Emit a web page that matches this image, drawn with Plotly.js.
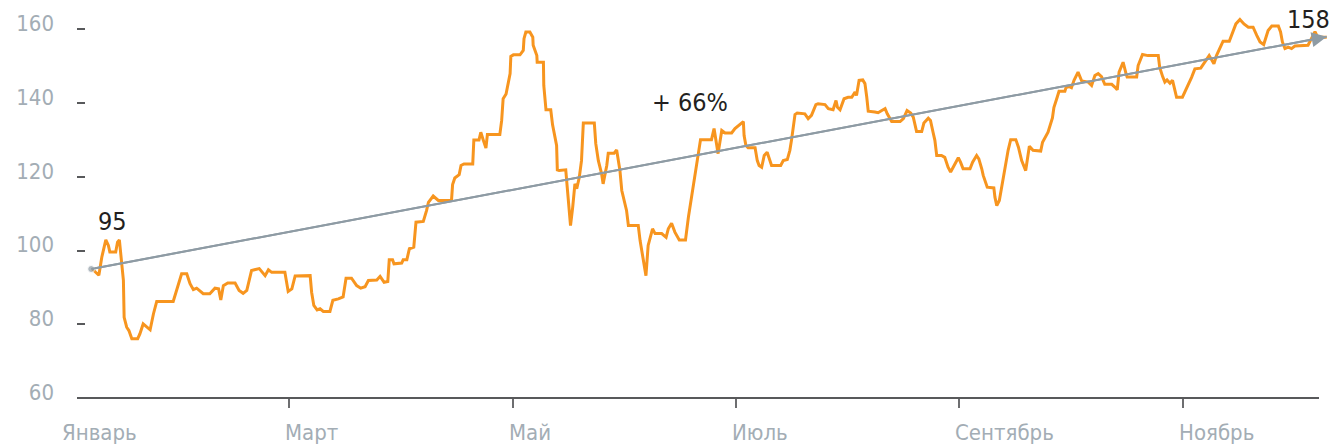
<!DOCTYPE html>
<html><head><meta charset="utf-8">
<script src="https://cdn.plot.ly/plotly-3.0.1.min.js"></script>
<style>html,body{margin:0;padding:0;background:#fff}#chart{width:1333px;height:448px}</style>
</head><body><div id="chart"></div>
<script>
// x = day position (one month = 30.5 units), y = index value
const days = [
  7.2, 9.0, 9.8, 10.9, 11.6, 12.0, 13.6, 14.1, 14.6, 15.0,
  15.7, 15.9, 16.6, 17.2, 18.0, 19.6, 20.2, 21.1, 22.1, 23.0,
  23.9, 24.8, 29.3, 30.0, 31.6, 33.0, 33.9, 34.8, 35.7, 37.5,
  39.3, 40.7, 41.7, 42.3, 43.0, 44.2, 46.2, 47.3, 48.4, 49.4,
  50.7, 52.8, 54.4, 55.3, 56.2, 59.8, 60.3, 60.7, 61.7, 62.6,
  66.7, 67.1, 67.7, 68.6, 69.4, 70.3, 72.1, 72.9, 74.4, 75.7,
  76.5, 78.0, 79.4, 80.5, 81.7, 82.6, 84.9, 85.8, 86.9, 87.9,
  88.3, 89.2, 89.6, 91.7, 92.1, 93.1, 93.8, 95.0, 95.6, 97.6,
  98.5, 99.0, 100.3, 101.7, 105.3, 105.6, 106.2, 107.4, 107.9, 108.7,
  111.1, 111.4, 112.8, 113.3, 114.0, 114.7, 115.1, 118.5, 119.0, 119.4,
  120.2, 121.3, 121.5, 122.2, 124.0, 124.9, 125.1, 125.6, 126.7, 127.5,
  127.6, 128.6, 128.7, 130.4, 130.5, 131.1, 132.4, 132.9, 134.0, 134.2,
  134.7, 136.5, 136.9, 137.5, 137.8, 138.4, 139.0, 139.5, 140.2, 140.8,
  141.3, 144.3, 144.7, 145.4, 146.3, 146.7, 147.7, 148.1, 149.7, 150.4,
  151.3, 151.8, 153.1, 153.6, 156.3, 156.8, 157.7, 158.4, 159.0, 160.2,
  160.9, 162.7, 163.9, 164.5, 165.4, 166.3, 167.5, 169.2, 170.0, 171.2,
  172.1, 172.7, 173.3, 176.3, 177.0, 178.1, 179.1, 180.0, 181.8, 182.7,
  184.1, 185.0, 185.2, 185.7, 186.3, 188.2, 188.8, 189.3, 190.0, 190.7,
  191.5, 192.3, 192.7, 195.2, 195.9, 197.0, 197.7, 198.2, 199.1, 199.7,
  201.8, 202.7, 203.6, 204.8, 205.4, 207.3, 208.2, 209.5, 210.3, 210.7,
  211.4, 212.5, 213.6, 214.6, 215.5, 215.9, 216.6, 217.6, 218.2, 218.7,
  219.1, 220.9, 221.8, 222.8, 223.7, 224.3, 225.0, 225.5, 227.8, 228.7,
  229.7, 230.7, 231.4, 231.9, 232.3, 233.7, 234.3, 235.5, 236.1, 236.8,
  237.3, 237.8, 239.1, 240.0, 240.9, 241.6, 242.5, 243.7, 244.3, 245.0,
  246.9, 247.6, 248.7, 249.3, 250.1, 250.5, 251.6, 253.4, 253.7, 254.2,
  254.9, 255.5, 256.4, 257.3, 258.0, 259.4, 260.1, 261.0, 262.1, 262.5,
  263.1, 264.1, 266.2, 266.7, 267.8, 268.2, 269.4, 269.8, 270.7, 271.2,
  272.8, 273.1, 274.0, 274.6, 275.3, 276.4, 277.4, 279.2, 280.1, 281.0,
  281.9, 282.8, 283.7, 285.6, 286.5, 287.1, 287.6, 288.7, 289.5, 289.8,
  292.4, 292.8, 294.0, 295.5, 298.3, 298.7, 299.5, 300.1, 300.7, 301.5,
  302.2, 302.8, 303.3, 304.9, 306.0, 307.4, 308.3, 309.9, 312.2, 312.9,
  313.5, 314.2, 315.3, 316.0, 317.7, 318.6, 319.5, 320.6, 321.7, 322.9,
  324.2, 325.2, 326.1, 327.1, 327.7, 328.3, 329.3, 331.1, 331.7, 332.2,
  332.9, 333.8, 334.7, 335.6, 339.2, 340.2, 341.1, 341.7, 342.4, 344.3
];
const values = [
  95.0, 93.3, 98.2, 102.9, 101.4, 99.6, 99.6, 102.3, 102.9, 98.2,
  91.9, 81.9, 79.2, 78.3, 76.1, 76.1, 77.4, 80.1, 79.2, 78.5,
  82.8, 86.2, 86.2, 88.7, 93.7, 93.7, 91.0, 89.4, 89.8, 88.3,
  88.3, 89.8, 89.6, 86.6, 90.5, 91.2, 91.2, 89.2, 88.4, 89.2,
  94.6, 95.1, 93.2, 94.8, 94.1, 94.1, 91.0, 88.9, 89.6, 93.1,
  93.2, 88.7, 85.1, 83.9, 84.2, 83.5, 83.5, 86.5, 86.9, 87.4,
  92.5, 92.5, 90.5, 89.8, 90.2, 91.9, 92.0, 93.0, 91.4, 91.6,
  97.5, 97.5, 96.4, 96.6, 97.5, 97.5, 100.5, 100.9, 107.7, 107.9,
  110.9, 113.1, 114.8, 113.6, 113.6, 117.9, 119.7, 120.6, 123.1, 123.5,
  123.5, 130.0, 130.0, 132.1, 129.9, 127.8, 131.5, 131.5, 135.3, 141.2,
  142.5, 148.0, 152.7, 153.1, 153.1, 154.3, 157.5, 159.3, 159.3, 157.9,
  155.7, 152.9, 151.1, 151.1, 144.8, 138.2, 138.2, 134.1, 128.5, 121.9,
  121.7, 121.9, 117.2, 109.1, 106.8, 111.8, 118.1, 116.8, 119.9, 124.4,
  134.6, 134.6, 129.0, 124.4, 120.8, 118.1, 123.1, 126.4, 126.4, 127.3,
  121.7, 116.3, 110.9, 106.8, 106.8, 102.7, 97.3, 93.2, 101.4, 105.9,
  104.6, 104.6, 103.6, 105.9, 107.4, 105.0, 102.9, 102.9, 109.1, 116.8,
  121.3, 126.3, 130.1, 130.1, 133.1, 126.3, 132.6, 131.9, 131.9, 133.1,
  134.4, 135.0, 131.2, 128.5, 127.9, 127.9, 124.4, 123.1, 122.6, 125.8,
  126.7, 124.0, 123.1, 123.1, 124.4, 124.7, 127.2, 130.3, 136.9, 137.3,
  137.1, 135.8, 136.7, 139.6, 139.8, 139.6, 138.5, 138.2, 140.7, 138.9,
  138.2, 141.2, 141.6, 141.6, 143.0, 142.1, 146.2, 146.3, 145.3, 141.6,
  137.8, 137.6, 137.4, 138.0, 138.5, 137.1, 135.8, 135.0, 135.0, 135.8,
  138.0, 137.3, 136.2, 133.9, 132.3, 132.3, 134.6, 135.9, 135.3, 132.1,
  129.9, 125.8, 125.8, 125.3, 122.6, 121.3, 123.1, 125.2, 124.0, 122.2,
  122.2, 124.0, 125.8, 124.9, 122.2, 120.4, 117.2, 117.0, 114.5, 112.2,
  113.6, 117.2, 121.7, 127.2, 130.1, 130.1, 128.1, 124.4, 121.7, 124.4,
  128.3, 127.2, 127.0, 129.4, 131.2, 132.1, 136.0, 138.8, 141.6, 143.2,
  143.2, 144.2, 144.5, 144.2, 146.2, 148.4, 146.0, 145.7, 144.8, 147.5,
  148.0, 147.2, 145.1, 145.1, 144.3, 143.6, 148.4, 151.1, 148.0, 147.1,
  147.1, 150.2, 153.2, 152.9, 152.9, 149.7, 147.2, 145.7, 146.3, 145.4,
  146.2, 143.9, 141.6, 141.6, 143.9, 147.0, 149.3, 149.5, 152.9, 151.6,
  150.7, 152.9, 155.2, 156.8, 156.8, 159.3, 161.5, 162.7, 161.5, 160.6,
  160.6, 158.4, 156.6, 155.9, 157.9, 159.7, 160.9, 160.9, 159.3, 156.6,
  154.8, 155.2, 154.8, 155.5, 155.7, 157.9, 159.4, 158.2, 157.9, 157.9
];
const trendDays = [6.9, 344.3];
const trendValues = [95, 158];
const monthDays = [0, 61, 122, 183, 244, 305];
const monthLabels = ['Январь', 'Март', 'Май', 'Июль', 'Сентябрь', 'Ноябрь'];
const yTicks = [60, 80, 100, 120, 140, 160];
const noteTexts = ['95', '+ 66%', '158'];
const noteDays = [12.6, 170.4, 339.3];
const noteValues = [107.9, 140.2, 162.8];

const FONT = "'Liberation Sans Narrow', 'DejaVu Sans Condensed', 'Roboto Condensed', 'Liberation Sans', sans-serif";
const xRange = [3.03, 345.2];
const axisEnd = 342.2;
const LABEL = '#a3adb5';

const traces = [
  {x: days, y: values, type: 'scatter', mode: 'lines',
   line: {color: '#f7951f', width: 3, shape: 'linear'}, hoverinfo: 'skip'},
  {x: trendDays, y: trendValues, type: 'scatter', mode: 'lines+markers',
   line: {color: '#8e9ba4', width: 2}, marker: {color: '#8e9ba4', size: [7, 0]}, hoverinfo: 'skip'}
];

const annotations = [];
monthLabels.forEach((t, i) => {
  annotations.push({
    text: t, xref: 'paper', yref: 'paper',
    x: (monthDays[i] - xRange[0]) / (xRange[1] - xRange[0]), y: 0,
    xanchor: 'left', yanchor: 'top', xshift: -6, yshift: -20,
    showarrow: false, font: {family: FONT, size: 22, color: LABEL}
  });
});
noteTexts.forEach((t, i) => {
  annotations.push({
    text: t, xref: 'x', yref: 'y', x: noteDays[i], y: noteValues[i],
    xanchor: 'center', yanchor: 'middle', showarrow: false,
    font: {family: FONT, size: 25, color: '#231f20'}
  });
});
annotations.push({
  text: '', xref: 'x', yref: 'y', axref: 'x', ayref: 'y',
  x: trendDays[1], y: trendValues[1], ax: trendDays[0], ay: trendValues[0],
  showarrow: true, arrowhead: 2, arrowsize: 1.5, arrowwidth: 2, arrowcolor: '#8e9ba4', standoff: 0
});

const layout = {
  width: 1333, height: 448,
  margin: {l: 77, r: 3, t: 11, b: 50, pad: 0},
  paper_bgcolor: '#ffffff', plot_bgcolor: '#ffffff',
  showlegend: false,
  font: {family: FONT, size: 22, color: LABEL},
  xaxis: {range: xRange, tickvals: monthDays, showticklabels: false,
          ticks: 'outside', ticklen: 9, tickwidth: 2, tickcolor: '#6d6e70',
          showgrid: false, zeroline: false, showline: false, fixedrange: true},
  yaxis: {range: [60, 165], tickvals: yTicks, ticks: 'inside', ticklen: 8, tickwidth: 2,
          tickcolor: '#58595b', showgrid: false, zeroline: false, showline: false,
          ticklabelstandoff: 22, ticklabelshift: -6,
          tickfont: {family: FONT, size: 22, color: LABEL}, fixedrange: true},
  shapes: [{type: 'line', xref: 'x', yref: 'paper', x0: xRange[0], x1: axisEnd, y0: 0, y1: 0,
            line: {color: '#58595b', width: 2}}],
  annotations: annotations
};

Plotly.newPlot('chart', traces, layout, {staticPlot: true, displayModeBar: false});
</script>
</body></html>
